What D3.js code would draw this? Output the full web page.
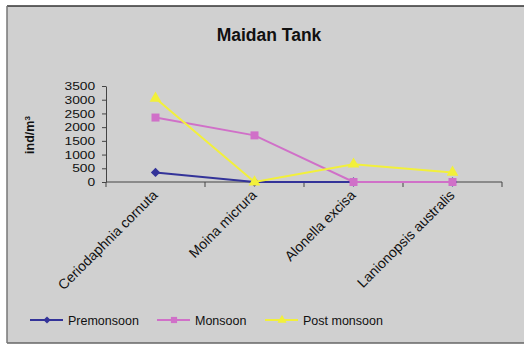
<!DOCTYPE html>
<html>
<head>
<meta charset="utf-8">
<script src="https://cdn.jsdelivr.net/npm/d3@7"></script>
<style>
  body { margin: 0; background: #fff; }
  text { font-family: "Liberation Sans", Arial, sans-serif; fill: #111; }
  .axis path, .axis line { stroke: #444; }
</style>
</head>
<body>
<div id="chart"></div>
<script>
// data
const categories = ["Ceriodaphnia cornuta", "Moina micrura", "Alonella excisa", "Lanionopsis australis"]
const premonsoon = [350, 0, 0, 0]
const monsoon = [2350, 1700, 0, 0]
const postMonsoon = [3050, 0, 650, 350]
const yTicks = [0, 500, 1000, 1500, 2000, 2500, 3000, 3500]

const series = [
  {name: "Premonsoon", values: premonsoon, color: "#333399", marker: d3.symbolDiamond2, size: 55},
  {name: "Monsoon", values: monsoon, color: "#d070c8", marker: d3.symbolSquare, size: 64},
  {name: "Post monsoon", values: postMonsoon, color: "#f2f03a", marker: d3.symbolTriangle, size: 60}
]

var width = 524,
    height = 345

const svg = d3.select("#chart")
  .append("svg")
    .attr("width", width)
    .attr("height", height)

// background + frame
svg.append("rect")
  .attr("x", 7).attr("y", 6)
  .attr("width", width - 7).attr("height", 337)
  .attr("fill", "#d0d0d0")
svg.append("line").attr("x1", 7).attr("x2", width).attr("y1", 6).attr("y2", 6)
  .attr("stroke", "#333").attr("stroke-width", 1.5)
svg.append("line").attr("x1", 7).attr("x2", width).attr("y1", 343).attr("y2", 343)
  .attr("stroke", "#666").attr("stroke-width", 1.5)
svg.append("line").attr("x1", 7).attr("x2", 7).attr("y1", 6).attr("y2", 343)
  .attr("stroke", "#777").attr("stroke-width", 1.5)

// scales
const x = d3.scaleBand()
  .domain(categories)
  .range([106, 502])
  .padding(0)

const y = d3.scaleLinear()
  .domain([0, 3500])
  .range([182, 86])

// y axis
const yAxis = svg.append("g")
  .attr("class", "axis")
  .attr("transform", "translate(106,0)")
  .call(d3.axisLeft(y).tickValues(yTicks).tickFormat(d3.format("d")).tickSize(4).tickSizeOuter(0).tickPadding(6))
yAxis.select(".domain").attr("stroke", "#444")
yAxis.selectAll("text")
  .style("font-size", "11.5px")
  .attr("fill", "#111")
  .attr("transform", "scale(1.2,1)")
  .attr("x", -9)

// x axis (ticks on category boundaries)
const xAxis = svg.append("g").attr("class", "axis")
xAxis.append("line")
  .attr("x1", x.range()[0]).attr("x2", x.range()[1])
  .attr("y1", y(0)).attr("y2", y(0))
  .attr("stroke", "#444")
const bounds = categories.map(d => x(d)).concat([x.range()[1]])
xAxis.selectAll(".tick")
  .data(bounds)
  .join("line")
    .attr("x1", d => d).attr("x2", d => d)
    .attr("y1", y(0)).attr("y2", y(0) + 5)
    .attr("stroke", "#444")

svg.append("g")
  .selectAll("text")
  .data(categories)
  .join("text")
    .attr("transform", d => `translate(${x(d) + x.bandwidth() / 2 + 3},${y(0) + 14}) rotate(-45)`)
    .attr("text-anchor", "end")
    .style("font-size", "14px")
    .text(d => d)

// lines + markers
const line = d3.line()
  .x((d, i) => x(categories[i]) + x.bandwidth() / 2)
  .y(d => y(d))

series.forEach(function(s) {
  svg.append("path")
    .datum(s.values)
    .attr("fill", "none")
    .attr("stroke", s.color)
    .attr("stroke-width", 2)
    .attr("d", line)
  svg.append("g")
    .selectAll("path")
    .data(s.values)
    .join("path")
      .attr("transform", (d, i) => `translate(${x(categories[i]) + x.bandwidth() / 2},${y(d)})`)
      .attr("d", d3.symbol().type(s.marker).size(s.size))
      .attr("fill", s.color)
})

// title
svg.append("text")
  .attr("x", 269)
  .attr("y", 41)
  .attr("text-anchor", "middle")
  .style("font-size", "17.5px")
  .style("font-weight", "bold")
  .text("Maidan Tank")

// y label
const yLab = svg.append("text")
  .attr("transform", "translate(34,135) rotate(-90)")
  .attr("text-anchor", "middle")
  .style("font-size", "12.5px")
  .style("font-weight", "bold")
yLab.append("tspan").text("ind/m")
yLab.append("tspan").attr("dy", -4).style("font-size", "8px").text("3")

// legend
const legendX = [30, 157, 265]
const legend = svg.append("g")
  .selectAll("g")
  .data(series)
  .join("g")
    .attr("transform", (d, i) => `translate(${legendX[i]},320)`)
legend.append("line")
  .attr("x1", 0).attr("x2", 33)
  .attr("stroke", d => d.color)
  .attr("stroke-width", 2)
legend.append("path")
  .attr("transform", "translate(17,0)")
  .attr("d", d => d3.symbol().type(d.marker).size(d.size * 0.6)())
  .attr("fill", d => d.color)
legend.append("text")
  .attr("x", 38)
  .attr("y", 4.5)
  .style("font-size", "12.5px")
  .text(d => d.name)
</script>
</body>
</html>
